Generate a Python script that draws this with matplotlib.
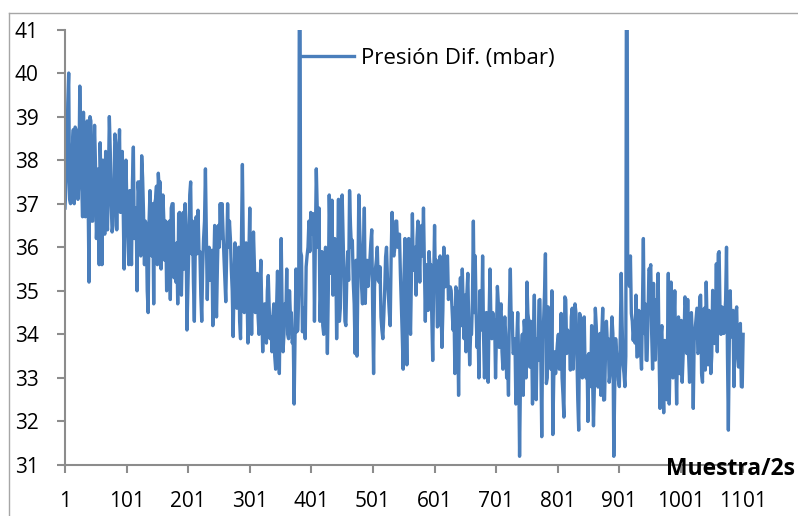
import numpy as np
import matplotlib.pyplot as plt
from matplotlib.lines import Line2D

plt.rcParams['font.family'] = ['Open Sans', 'DejaVu Sans']

# Presión diferencial (mbar): lecturas en las muestras 1, 4, 7, ...
presion = [
    36.9, 37.8, 40.0, 37.0, 38.3, 37.0, 38.7, 37.1, 39.7, 37.5,
    39.1, 36.7, 38.9, 35.2, 38.9, 36.6, 38.8, 36.2, 37.8, 38.4,
    35.6, 37.5, 38.2, 36.4, 39.0, 37.0, 36.5, 38.6, 36.4, 37.8,
    36.8, 38.2, 35.5, 38.0, 36.5, 37.3, 35.6, 38.3, 36.6, 35.0,
    37.2, 35.8, 37.6, 35.6, 36.5, 34.5, 37.3, 35.8, 34.7, 37.1,
    35.6, 37.3, 35.5, 37.2, 35.7, 35.0, 36.5, 34.8, 37.0, 35.3,
    35.2, 34.7, 36.8, 34.9, 36.8, 37.0, 34.1, 36.0, 37.5, 36.6,
    34.3, 36.7, 36.85, 35.9, 34.3, 36.2, 37.8, 34.8, 36.0, 35.4,
    34.2, 36.5, 34.4, 36.5, 37.0, 37.0, 35.8, 34.75, 37.0, 36.6,
    35.5, 33.95, 36.1, 34.6, 36.0, 33.9, 37.9, 34.5, 36.1, 33.8,
    36.9, 34.0, 36.35, 34.5, 35.4, 34.0, 35.7, 33.6, 34.7, 33.8,
    35.35, 33.9, 33.6, 34.7, 33.2, 35.45, 33.1, 36.2, 33.6, 34.7,
    35.5, 33.9,
    34.4, 33.8, 32.4, 35.5, 34.1, 46.0, 35.8, 34.3, 33.9, 35.8,
    36.6, 36.8, 36.3, 34.3, 37.8, 36.0, 34.3, 35.9, 34.0, 36.0,
    33.56, 37.2, 35.4, 34.9, 36.2, 33.9, 37.1, 34.6, 37.2, 35.3,
    34.2, 35.9, 37.3, 36.0, 35.2, 33.56, 33.5, 37.2, 35.8, 34.7,
    36.9, 35.6, 35.1, 35.7, 36.4, 33.1, 35.5, 36.0, 35.2, 34.4,
    33.9, 35.0, 36.0, 34.9, 34.2, 36.8, 35.8, 36.6, 36.0, 36.3,
    34.7, 33.2,
    36.2, 33.3, 36.2, 34.0, 36.77, 35.6, 34.9, 36.6, 35.2, 36.5,
    36.9, 34.3, 34.8, 35.9, 35.6, 33.4, 36.5, 35.7, 34.2, 35.8,
    33.7, 36.0, 35.1, 35.8, 34.9, 35.0, 34.1, 33.1, 35.0, 32.6,
    35.3, 35.5, 33.9, 33.6, 35.4, 33.3, 34.0, 36.6, 35.8, 33.7,
    33.0, 34.4, 35.8, 33.0, 34.5, 32.9, 35.5, 33.9, 34.3, 33.0,
    35.1, 33.7, 34.7, 33.2, 34.4, 33.0, 32.6, 35.5, 34.5, 33.6,
    32.4, 34.5, 31.2,
    33.6, 32.6, 34.0, 35.2, 34.3, 34.3, 32.4, 34.9, 32.5, 33.4,
    34.8, 31.65, 34.3, 35.85, 33.0, 34.3, 33.2, 31.7, 33.6, 33.5,
    34.0, 33.3, 33.0, 32.1, 34.8, 34.1, 33.9, 34.4, 33.2, 34.7,
    33.6, 31.8, 34.4, 33.0, 34.4, 33.0, 32.0, 33.4, 34.2, 31.9,
    34.6, 33.5, 33.2, 32.6, 34.6, 32.5, 34.3, 33.9, 33.1, 34.4,
    31.2, 33.9, 33.4, 32.8, 35.4, 33.3, 32.8, 47.0, 35.4, 35.8,
    34.3, 34.2,
    34.9, 33.5, 34.5, 33.2, 36.2, 34.7, 33.4, 35.5, 35.6, 33.2,
    34.0, 34.8, 35.4, 32.3, 34.2, 32.2, 33.1, 33.6, 32.4, 35.2,
    33.0, 35.0, 32.4, 34.4, 33.1, 32.9, 33.9, 34.6, 34.8, 32.9,
    34.5, 32.3, 34.1, 34.6, 33.6, 34.9, 32.9, 34.6, 35.2, 33.3,
    34.5, 33.5, 34.9, 34.2, 33.6, 35.9, 34.0, 34.6, 34.4, 36.0,
    31.8, 35.0, 34.3, 32.8, 34.5, 33.5, 33.9, 32.8, 34.0,
]

# lecturas intermedias, a mitad de camino entre las anteriores
presion_media = [
    37.4, 39.3, 37.1, 38.2, 38.7, 38.76, 37.6, 37.5, 38.3, 36.7,
    37.5, 37.4, 37.2, 39.0, 36.6, 37.9, 37.9, 36.8, 35.6, 37.5,
    38.0, 36.3, 36.8, 37.6, 38.2, 36.35, 37.4, 38.4, 38.1, 38.7,
    37.5, 36.8, 36.6, 36.9, 35.6, 36.3, 37.5, 36.2, 36.9, 37.5,
    37.5, 38.1, 36.8, 36.6, 35.0, 36.6, 36.6, 37.0, 37.0, 37.4,
    37.7, 37.5, 36.6, 36.6, 36.6, 35.9, 36.6, 36.9, 37.0, 35.9,
    36.1, 36.77, 35.6, 36.0, 35.5, 36.4, 35.0, 37.2, 35.85, 35.2,
    36.0, 35.85, 35.9, 34.9, 35.5, 36.6, 36.3, 35.9, 35.24, 35.93,
    35.5, 35.2, 35.6, 36.0, 36.2, 36.4, 35.3, 35.9, 36.0, 36.2,
    35.0, 35.2, 35.3, 35.8, 34.3, 36.2, 36.0, 35.6, 35.0, 35.8,
    35.0, 35.2, 35.6, 35.0, 34.4, 35.1, 34.5, 34.6, 34.0, 35.0,
    34.6, 34.4, 34.4, 33.5, 34.6, 34.2, 34.8, 34.6, 34.0, 34.4,
    34.0, 35.0,
    34.5, 34.0, 34.0, 34.06, 35.0, 35.9, 34.06, 34.6, 35.55, 36.0,
    35.9, 36.3, 36.77, 36.2, 36.9, 36.9, 35.0, 34.2, 35.6, 34.8,
    35.0, 36.2, 37.08, 35.6, 36.0, 35.4, 34.3, 36.6, 36.3, 34.3,
    35.3, 35.24, 36.5, 36.16, 34.7, 35.7, 35.2, 36.4, 35.09, 35.9,
    34.71, 35.7, 35.4, 36.1, 34.6, 35.09, 35.7, 35.24, 35.55, 34.1,
    34.4, 35.78, 35.3, 34.5, 35.8, 35.85, 36.0, 36.6, 36.0, 35.4,
    34.0, 35.4,
    34.6, 35.8, 34.5, 35.4, 35.47, 36.0, 36.2, 35.9, 36.47, 35.8,
    35.6, 35.6, 34.55, 35.55, 34.4, 35.17, 35.0, 34.17, 35.0, 34.6,
    34.55, 35.09, 35.78, 34.8, 35.09, 34.55, 34.6, 35.09, 34.2, 34.6,
    34.2, 34.6, 34.9, 34.94, 34.2, 34.02, 34.8, 34.5, 34.5, 34.2,
    35.0, 34.1, 34.0, 33.71, 34.0, 34.4, 34.32, 34.5, 34.32, 34.0,
    34.71, 34.5, 33.6, 34.02, 34.0, 33.5, 34.6, 34.2, 33.56, 33.9,
    33.86, 33.4, 33.0,
    34.0, 34.32, 33.0, 34.48, 33.25, 34.0, 34.0, 33.0, 33.9, 34.78,
    33.5, 33.9, 34.94, 32.87, 34.63, 33.3, 35.0, 33.0, 33.1, 33.8,
    33.2, 34.48, 32.6, 34.86, 33.56, 33.8, 33.18, 34.6, 34.0, 34.5,
    32.5, 34.48, 33.6, 33.56, 33.1, 33.5, 33.56, 32.8, 33.0, 32.8,
    34.2, 32.79, 34.02, 34.0, 32.49, 33.56, 33.8, 32.9, 33.8, 34.02,
    32.8, 33.56, 32.95, 34.0, 34.25, 33.1, 33.5, 35.78, 35.1, 34.48,
    33.86, 33.8,
    33.48, 34.55, 33.64, 34.6, 34.02, 33.41, 34.32, 35.47, 34.0, 35.17,
    33.41, 34.17, 33.56, 33.94, 33.0, 33.86, 32.5, 35.4, 33.6, 33.56,
    34.2, 33.5, 33.86, 33.1, 34.32, 33.5, 34.86, 33.56, 33.5, 34.32,
    33.94, 33.86, 34.32, 33.56, 34.86, 33.1, 34.55, 33.18, 34.2, 34.55,
    33.1, 35.01, 33.79, 35.62, 35.85, 34.5, 34.63, 34.02, 34.78, 33.56,
    33.8, 33.94, 34.55, 33.8, 34.63, 33.25, 34.25, 32.79,
]

paso = 3
muestra = np.arange(1, 1 + paso * len(presion), paso)
muestra_media = muestra[:len(presion_media)] + paso / 2

# unir ambas series en orden de muestra
x = np.concatenate([muestra, muestra_media])
y = np.concatenate([presion, presion_media])
orden = np.argsort(x, kind='stable')
x, y = x[orden], y[orden]

xticks = list(range(1, 1102, 100))
yticks = list(range(31, 42))

gris = '#8c8c8c'
azul = '#4a7ebb'

fig = plt.figure(figsize=(7.98, 5.16), dpi=100)
ax = fig.add_axes([65 / 798, 51 / 516, 680 / 798, 435.5 / 516])

ax.plot(x, y, color=azul, lw=2.4, label='Presión Dif. (mbar)')

ax.set_xlim(1, 1105)
ax.set_ylim(31, 41)
ax.set_xticks(xticks)
ax.set_yticks(yticks)

for lado in ['top', 'right']:
    ax.spines[lado].set_visible(False)
for lado in ['left', 'bottom']:
    ax.spines[lado].set_color(gris)
    ax.spines[lado].set_linewidth(1.5)

ax.tick_params(axis='y', direction='out', length=6, width=1.5, color=gris,
               pad=13, labelsize=15)
ax.tick_params(axis='x', direction='out', length=6, width=1.5, color=gris,
               pad=13, labelsize=15)

ax.legend(loc='center left', bbox_to_anchor=((300 - 65) / 680, 1 - (58.3 - 29.5) / 435.5),
          frameon=False, fontsize=16, handlelength=2.45, handletextpad=0.3,
          borderpad=0, borderaxespad=0)

fig.text(795 / 798, 1 - 469 / 516, 'Muestra/2s', ha='right', va='center',
         fontsize=16.5, fontweight='bold')

# marco del gráfico
fig.add_artist(Line2D([9 / 798, 9 / 798], [0, 1 - 12.7 / 516], color='#a6a6a6',
                      lw=1, transform=fig.transFigure))
fig.add_artist(Line2D([9 / 798, 1], [1 - 12.7 / 516, 1 - 12.7 / 516], color='#a6a6a6',
                      lw=1, transform=fig.transFigure))

fig.savefig('out.png', dpi=100)
